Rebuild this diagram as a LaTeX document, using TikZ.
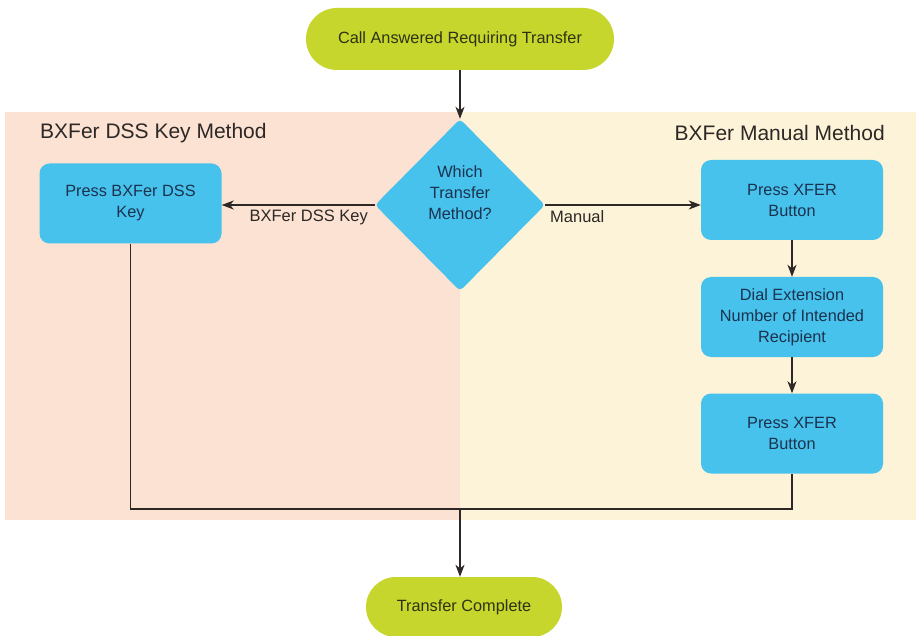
\documentclass[tikz,border=0pt]{standalone}
\usepackage{fontspec}
\setmainfont{Liberation Sans}
\usetikzlibrary{shapes.geometric,shapes.misc,arrows.meta}
\definecolor{term}{RGB}{198,214,44}
\definecolor{boxblue}{RGB}{70,194,236}
\definecolor{leftband}{RGB}{252,226,210}
\definecolor{rightband}{RGB}{253,243,216}
\definecolor{boxtext}{RGB}{28,50,78}
\definecolor{termtext}{RGB}{45,50,20}
\definecolor{linecol}{RGB}{45,40,38}
\tikzset{
  terminal/.style={rounded rectangle, fill=term, draw=none, text=termtext, font=\fontsize{16.3}{19}\selectfont, inner sep=0pt},
  stepbox/.style={rectangle, rounded corners=10pt, fill=boxblue, draw=none, text=boxtext, align=center, font=\fontsize{16.3}{21}\selectfont, minimum width=182pt, minimum height=80pt, inner sep=0pt},
  decision/.style={diamond, fill=boxblue, draw=none, rounded corners=4pt, minimum width=170pt, minimum height=172pt, inner sep=0pt},
  flow/.style={draw=linecol, line width=1.3pt, -{Stealth[length=12pt,width=9pt,inset=3.5pt]}},
  plain/.style={draw=linecol, line width=1.3pt},
  lbl/.style={text=linecol, font=\fontsize{16.5}{19}\selectfont, inner sep=0pt},
  heading/.style={text=linecol, font=\fontsize{21}{24}\selectfont, inner sep=0pt}
}
\begin{document}
\begin{tikzpicture}[x=1pt,y=-1pt]
\useasboundingbox (0,0) rectangle (918,636);
\fill[white] (0,0) rectangle (918,636);
% bands
\fill[leftband] (5,112) rectangle (460,520);
\fill[rightband] (460,112) rectangle (916,520);
\node[heading, anchor=west] (hl) at (40,133) {BXFer DSS Key Method};
\node[heading, anchor=east] (hr) at (885,133) {BXFer Manual Method};
% nodes
\node[terminal, minimum width=308pt, minimum height=62pt] (start) at (460,39) {Call Answered Requiring Transfer};
\node[decision] (dec) at (460,205) {};
\node[text=boxtext, align=center, font=\fontsize{16.3}{21}\selectfont, inner sep=0pt] (dectext) at (460,193) {Which\\Transfer\\Method?};
\node[stepbox] (dss) at (130.5,203.5) {Press BXFer DSS\\Key};
\node[stepbox] (x1) at (792,200) {Press XFER\\Button};
\node[stepbox] (dial) at (792,317) {Dial Extension\\Number of Intended\\Recipient};
\node[stepbox] (x2) at (792,433.5) {Press XFER\\Button};
\node[terminal, minimum width=196pt, minimum height=60pt] (end) at (464,607) {Transfer Complete};
\coordinate (jl) at (130.5,509);
\coordinate (jr) at (792,509);
\coordinate (jm) at (460,509);
% connectors
\draw[flow] (start.south) -- (dec.north);
\draw[flow] (dec.west) -- (dss.east |- dec.west);
\draw[flow] (dec.east) -- (x1.west |- dec.east);
\draw[flow] (x1.south) -- (dial.north);
\draw[flow] (dial.south) -- (x2.north);
\draw[plain] (dss.south) -- (jl) -- (jr) -- (x2.south);
\draw[flow] (jm) -- (jm |- end.north);
% labels
\node[lbl, anchor=north east] (l1) at (368,210) {BXFer DSS Key};
\node[lbl, anchor=north west] (l2) at (550,210) {Manual};
\end{tikzpicture}
\end{document}
